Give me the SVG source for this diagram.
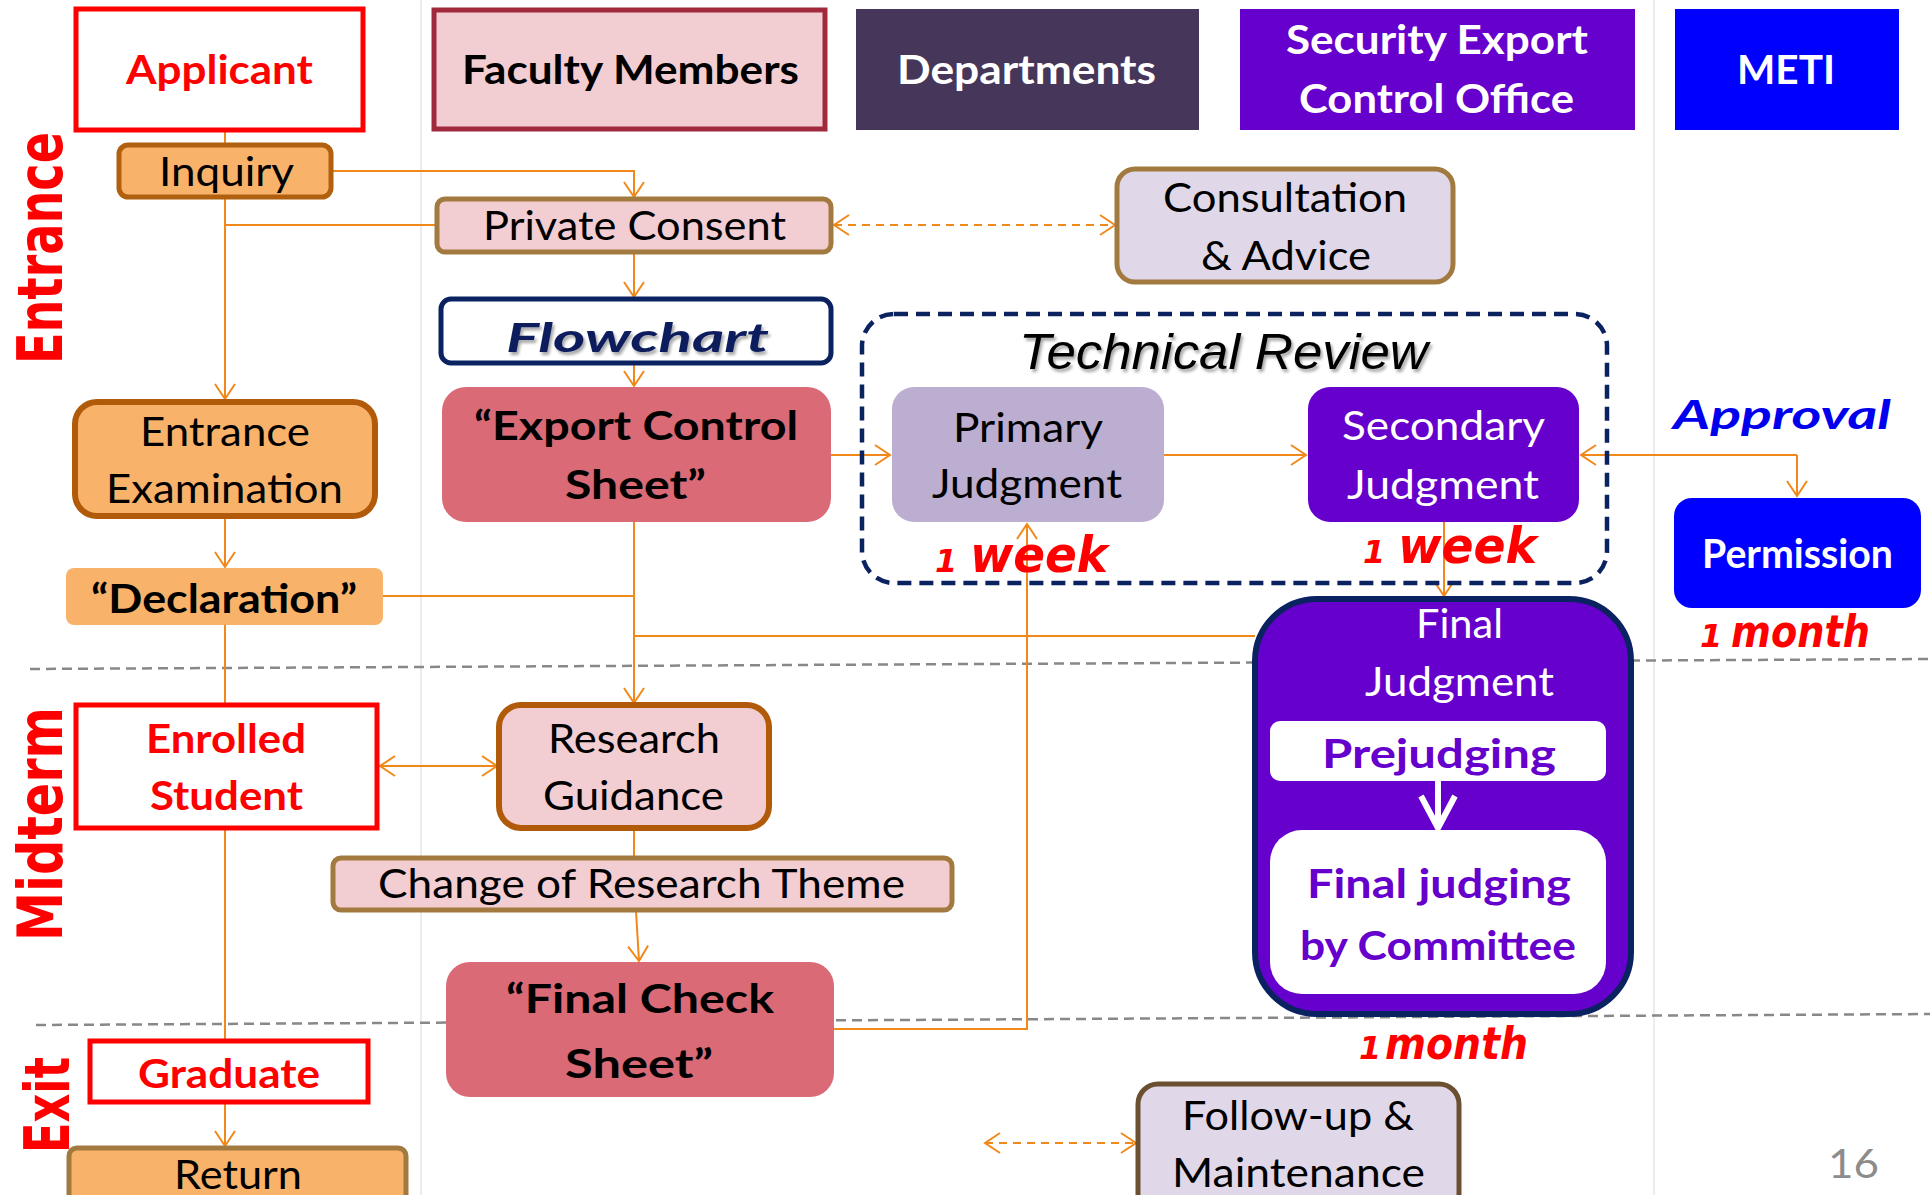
<svg xmlns="http://www.w3.org/2000/svg" width="1930" height="1195" viewBox="0 0 1930 1195">
<defs>
<style>
.t{font-family:Lato,"Liberation Sans",sans-serif;text-anchor:middle;font-size:40px;fill:#000}
.b{font-weight:700}
.w{fill:#fff}
.r{fill:#ff0000}
.c{stroke:#f0891a;stroke-width:2;fill:none}
.d{stroke-dasharray:8,6}
.side{font-family:"DejaVu Sans","Liberation Sans",sans-serif;font-weight:700;fill:#ff0000;font-size:62px;text-anchor:middle}
.tm{font-family:"DejaVu Sans","Liberation Sans",sans-serif;font-weight:700;font-style:italic;fill:#ff0000}
</style>
<marker id="ah" markerUnits="userSpaceOnUse" markerWidth="20" markerHeight="24" refX="17" refY="12" orient="auto-start-reverse">
<path d="M2,2 L17,12 L2,22" fill="none" stroke="#f0891a" stroke-width="2"/>
</marker>
<filter id="sh" x="-10%" y="-20%" width="120%" height="150%">
<feDropShadow dx="2" dy="3" stdDeviation="1.5" flood-color="#000" flood-opacity="0.35"/>
</filter>
</defs>
<rect width="1930" height="1195" fill="#fff"/>

<g id="lanes">
<line x1="421" y1="0" x2="421" y2="1195" stroke="#e6e6e6" stroke-width="1.5"/>
<line x1="1654" y1="0" x2="1654" y2="1195" stroke="#e6e6e6" stroke-width="1.5"/>
<line x1="30" y1="669" x2="1930" y2="659" stroke="#888" stroke-width="2.5" stroke-dasharray="10,6"/>
<line x1="36" y1="1025" x2="1930" y2="1014" stroke="#888" stroke-width="2.5" stroke-dasharray="10,6"/>
</g>

<g id="phase-labels">
<text class="side" transform="translate(62,248) rotate(-90)" textLength="232" lengthAdjust="spacingAndGlyphs">Entrance</text>
<text class="side" transform="translate(62,824) rotate(-90)" textLength="234" lengthAdjust="spacingAndGlyphs">Midterm</text>
<text class="side" transform="translate(69,1105) rotate(-90)" font-size="58" textLength="96" lengthAdjust="spacingAndGlyphs">Exit</text>
</g>

<g id="connectors">
<path class="c" d="M225,131 V144"/>
<path class="c" d="M225,198 V399" marker-end="url(#ah)"/>
<path class="c" d="M332,171 H634 V197" marker-end="url(#ah)"/>
<path class="c" d="M225,225 H436"/>
<path class="c" d="M634,253 V297" marker-end="url(#ah)"/>
<path class="c" d="M634,364 V386" marker-end="url(#ah)"/>
<path class="c d" d="M834,225 H1115" marker-start="url(#ah)" marker-end="url(#ah)"/>
<path class="c" d="M831,455 H890" marker-end="url(#ah)"/>
<path class="c" d="M1164,455 H1306" marker-end="url(#ah)"/>
<path class="c" d="M1797,455 H1581" marker-end="url(#ah)"/>
<path class="c" d="M1797,455 V496" marker-end="url(#ah)"/>
<path class="c" d="M1444,522 V596" marker-end="url(#ah)"/>
<path class="c" d="M634,522 V703" marker-end="url(#ah)"/>
<path class="c" d="M383,596 H634"/>
<path class="c" d="M634,636 H1255"/>
<path class="c" d="M225,517 V567" marker-end="url(#ah)"/>
<path class="c" d="M225,625 V705"/>
<path class="c" d="M380,766 H497" marker-start="url(#ah)" marker-end="url(#ah)"/>
<path class="c" d="M225,829 V1041"/>
<path class="c" d="M225,1103 V1146" marker-end="url(#ah)"/>
<path class="c" d="M634,829 V858"/>
<path class="c" d="M636,911 L639,961" marker-end="url(#ah)"/>
<path class="c" d="M834,1029 H1027 V524" marker-end="url(#ah)"/>
<path class="c d" d="M985,1143 H1136" marker-start="url(#ah)" marker-end="url(#ah)"/>
</g>

<g id="applicant">
<rect x="76" y="9" width="287" height="121" fill="#fff" stroke="#ff0000" stroke-width="5"/>
<text class="t b r" x="219.5" y="84" textLength="187" lengthAdjust="spacingAndGlyphs">Applicant</text>
</g>
<g id="faculty-members">
<rect x="434" y="10" width="391" height="119" fill="#f2cdd2" stroke="#a02a3c" stroke-width="5"/>
<text class="t b" x="630.5" y="84" textLength="337" lengthAdjust="spacingAndGlyphs">Faculty Members</text>
</g>
<g id="departments">
<rect x="856" y="9" width="343" height="121" fill="#46365a"/>
<text class="t b w" x="1026.5" y="84" textLength="259" lengthAdjust="spacingAndGlyphs">Departments</text>
</g>
<g id="security-export-control-office">
<rect x="1240" y="9" width="395" height="121" fill="#6600cc"/>
<text class="t b w" x="1437" y="54" textLength="302" lengthAdjust="spacingAndGlyphs">Security Export</text>
<text class="t b w" x="1436.5" y="113" textLength="275" lengthAdjust="spacingAndGlyphs">Control Office</text>
</g>
<g id="meti">
<rect x="1675" y="9" width="224" height="121" fill="#0000ff"/>
<text class="t b w" x="1786" y="84" textLength="98" lengthAdjust="spacingAndGlyphs">METI</text>
</g>

<g id="inquiry">
<rect x="119" y="145" width="212" height="52" rx="9" fill="#f8b26a" stroke="#b0600f" stroke-width="5"/>
<text class="t" x="226.5" y="186" textLength="135" lengthAdjust="spacingAndGlyphs">Inquiry</text>
</g>
<g id="private-consent">
<rect x="437" y="199" width="394" height="53" rx="8" fill="#f2cdd2" stroke="#a27a40" stroke-width="5"/>
<text class="t" x="634.5" y="240" textLength="303" lengthAdjust="spacingAndGlyphs">Private Consent</text>
</g>
<g id="consultation-advice">
<rect x="1117" y="169" width="336" height="113" rx="18" fill="#e0d8e8" stroke="#a27a40" stroke-width="5"/>
<text class="t" x="1285" y="212" textLength="244" lengthAdjust="spacingAndGlyphs">Consultation</text>
<text class="t" x="1286" y="270" textLength="170" lengthAdjust="spacingAndGlyphs">&amp; Advice</text>
</g>
<g id="flowchart">
<rect x="441" y="299" width="390" height="64" rx="10" fill="#fff" stroke="#0b2260" stroke-width="5"/>
<text class="t b" x="637.5" y="352" font-size="60" font-style="italic" style="fill:#0b1f5c" filter="url(#sh)" textLength="263" lengthAdjust="spacingAndGlyphs">Flowchart</text>
</g>
<g id="export-control-sheet">
<rect x="442" y="387" width="389" height="135" rx="24" fill="#d96a76"/>
<text class="t b" x="636" y="440" font-size="42" textLength="324" lengthAdjust="spacingAndGlyphs">“Export Control</text>
<text class="t b" x="635.5" y="499" font-size="42" textLength="141" lengthAdjust="spacingAndGlyphs">Sheet”</text>
</g>

<g id="technical-review">
<rect x="862" y="314" width="745" height="269" rx="32" fill="none" stroke="#0b2260" stroke-width="4.5" stroke-dasharray="14,8"/>
<text x="1223.5" y="369" font-family="'Liberation Sans',Arial,sans-serif" font-style="italic" font-size="50" text-anchor="middle" filter="url(#sh)" textLength="409" lengthAdjust="spacingAndGlyphs">Technical Review</text>
</g>
<g id="primary-judgment">
<rect x="892" y="387" width="272" height="135" rx="22" fill="#bcaed0"/>
<text class="t" x="1028" y="442" textLength="150" lengthAdjust="spacingAndGlyphs">Primary</text>
<text class="t" x="1027" y="498" textLength="190" lengthAdjust="spacingAndGlyphs">Judgment</text>
</g>
<g id="secondary-judgment">
<rect x="1308" y="387" width="271" height="135" rx="22" fill="#6600cc"/>
<text class="t w" x="1443.5" y="440" textLength="203" lengthAdjust="spacingAndGlyphs">Secondary</text>
<text class="t w" x="1443" y="499" textLength="192" lengthAdjust="spacingAndGlyphs">Judgment</text>
</g>
<g id="approval">
<text class="t b" x="1782" y="429" font-size="46" font-style="italic" style="fill:#0000ee" textLength="218" lengthAdjust="spacingAndGlyphs">Approval</text>
</g>
<g id="permission">
<rect x="1674" y="498" width="247" height="110" rx="18" fill="#0000ff"/>
<text class="t b w" x="1797.5" y="568" font-size="37" textLength="191" lengthAdjust="spacingAndGlyphs">Permission</text>
</g>

<g id="durations">
<text class="tm" y="572"><tspan x="935" font-size="32">1</tspan><tspan x="970" font-size="50" textLength="138" lengthAdjust="spacingAndGlyphs">week</tspan></text>
<text class="tm" y="563"><tspan x="1363" font-size="32">1</tspan><tspan x="1398" font-size="50" textLength="139" lengthAdjust="spacingAndGlyphs">week</tspan></text>
<text class="tm" y="647"><tspan x="1700" font-size="32">1</tspan><tspan x="1731" font-size="45" textLength="139" lengthAdjust="spacingAndGlyphs">month</tspan></text>
<text class="tm" y="1059"><tspan x="1359" font-size="32">1</tspan><tspan x="1385" font-size="45" textLength="143" lengthAdjust="spacingAndGlyphs">month</tspan></text>
</g>

<g id="entrance-examination">
<rect x="75" y="402" width="300" height="114" rx="22" fill="#f8b26a" stroke="#b05a0a" stroke-width="6"/>
<text class="t" x="225" y="446" textLength="170" lengthAdjust="spacingAndGlyphs">Entrance</text>
<text class="t" x="224.5" y="503" textLength="237" lengthAdjust="spacingAndGlyphs">Examination</text>
</g>
<g id="declaration">
<rect x="66" y="568" width="317" height="57" rx="8" fill="#f8b26a"/>
<text class="t b" x="224" y="613" textLength="266" lengthAdjust="spacingAndGlyphs">“Declaration”</text>
</g>
<g id="enrolled-student">
<rect x="76" y="705" width="301" height="123" fill="#fff" stroke="#ff0000" stroke-width="5"/>
<text class="t b r" x="226" y="753" textLength="160" lengthAdjust="spacingAndGlyphs">Enrolled</text>
<text class="t b r" x="226.5" y="810" textLength="153" lengthAdjust="spacingAndGlyphs">Student</text>
</g>
<g id="research-guidance">
<rect x="499" y="705" width="270" height="123" rx="22" fill="#f2cdd2" stroke="#b05a0a" stroke-width="6"/>
<text class="t" x="634" y="753" textLength="172" lengthAdjust="spacingAndGlyphs">Research</text>
<text class="t" x="633.5" y="810" textLength="181" lengthAdjust="spacingAndGlyphs">Guidance</text>
</g>
<g id="change-of-research-theme">
<rect x="333" y="858" width="619" height="52" rx="8" fill="#f2cdd2" stroke="#a27a40" stroke-width="5"/>
<text class="t" x="641.5" y="898" textLength="527" lengthAdjust="spacingAndGlyphs">Change of Research Theme</text>
</g>
<g id="final-check-sheet">
<rect x="446" y="962" width="388" height="135" rx="24" fill="#d96a76"/>
<text class="t b" x="640" y="1013" font-size="45" textLength="268" lengthAdjust="spacingAndGlyphs">“Final Check</text>
<text class="t b" x="639" y="1078" font-size="45" textLength="148" lengthAdjust="spacingAndGlyphs">Sheet”</text>
</g>
<g id="graduate">
<rect x="90" y="1041" width="278" height="61" fill="#fff" stroke="#ff0000" stroke-width="5"/>
<text class="t b r" x="229" y="1088" textLength="182" lengthAdjust="spacingAndGlyphs">Graduate</text>
</g>
<g id="return">
<rect x="69" y="1148" width="337" height="60" rx="8" fill="#f8b26a" stroke="#a27a40" stroke-width="5"/>
<text class="t" x="238" y="1189" textLength="128" lengthAdjust="spacingAndGlyphs">Return</text>
</g>

<g id="final-judgment">
<rect x="1255" y="599" width="376" height="415" rx="62" fill="#6600cc" stroke="#0b2260" stroke-width="6"/>
<text class="t w" x="1459.5" y="638" textLength="87" lengthAdjust="spacingAndGlyphs">Final</text>
<text class="t w" x="1459.5" y="696" textLength="189" lengthAdjust="spacingAndGlyphs">Judgment</text>
</g>
<g id="prejudging">
<rect x="1270" y="721" width="336" height="60" rx="10" fill="#fff"/>
<text class="t b" x="1439" y="768" font-size="44" style="fill:#6600cc" textLength="234" lengthAdjust="spacingAndGlyphs">Prejudging</text>
</g>
<g id="prejudging-arrow">
<path d="M1438,781 V826 M1421,796 L1438,828 L1455,796" fill="none" stroke="#fff" stroke-width="6" stroke-linejoin="miter"/>
</g>
<g id="final-judging-committee">
<rect x="1270" y="830" width="336" height="164" rx="32" fill="#fff"/>
<text class="t b" x="1439" y="898" font-size="43" style="fill:#6600cc" textLength="264" lengthAdjust="spacingAndGlyphs">Final judging</text>
<text class="t b" x="1438" y="960" font-size="43" style="fill:#6600cc" textLength="276" lengthAdjust="spacingAndGlyphs">by Committee</text>
</g>

<g id="follow-up-maintenance">
<rect x="1138" y="1084" width="321" height="130" rx="20" fill="#e0d8e8" stroke="#6a5030" stroke-width="5"/>
<text class="t" x="1298" y="1130" textLength="232" lengthAdjust="spacingAndGlyphs">Follow-up &amp;</text>
<text class="t" x="1298.5" y="1187" textLength="253" lengthAdjust="spacingAndGlyphs">Maintenance</text>
</g>

<g id="page-number">
<text class="t" x="1853.5" y="1178" font-size="42" style="fill:#8c8c8c" textLength="51" lengthAdjust="spacingAndGlyphs">16</text>
</g>
</svg>
